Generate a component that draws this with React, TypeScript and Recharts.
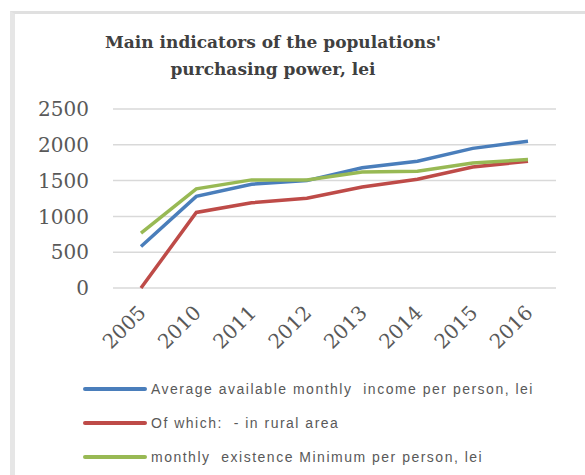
import { LineChart, Line, XAxis, YAxis, CartesianGrid } from 'recharts';

// Values
const years = ['2005', '2010', '2011', '2012', '2013', '2014', '2015', '2016'];
const avgIncome = [580, 1280, 1450, 1500, 1680, 1770, 1950, 2050];
const ruralIncome = [0, 1055, 1190, 1255, 1410, 1520, 1690, 1770];
const subsistenceMin = [765, 1385, 1510, 1510, 1620, 1630, 1745, 1795];
const yTicks = [0, 500, 1000, 1500, 2000, 2500];

const SERIES = [
    { key: 'avg', name: 'Average available monthly  income per person, lei', color: '#4a7ebb', values: avgIncome },
    { key: 'rural', name: 'Of which:  - in rural area', color: '#be4b48', values: ruralIncome },
    { key: 'minimum', name: 'monthly  existence Minimum per person, lei', color: '#98b954', values: subsistenceMin },
];

const data = years.map((year, i) => {
    const row: Record<string, string | number> = { year };
    SERIES.forEach((s) => {
        row[s.key] = s.values[i];
    });
    return row;
});

const TICK_FONT = '"DejaVu Serif", serif';

const YearTick = ({ x, y, payload }: { x: number; y: number; payload: { value: string } }) => {
    const tx = x + 6;
    const ty = y + 26;
    return (
        <text
            x={tx}
            y={ty}
            transform={`rotate(-45, ${tx}, ${ty})`}
            textAnchor="end"
            fill="#595959"
            fontFamily={TICK_FONT}
            fontSize={20}
        >
            {payload.value}
        </text>
    );
};

export default function App() {
    return (
        <div style={{ position: 'absolute', left: 0, top: 0, width: 585, height: 475, background: '#fff', overflow: 'hidden' }}>
            {/* chart frame (only top and left edges visible) */}
            <div
                style={{
                    position: 'absolute',
                    left: 10,
                    top: 11,
                    width: 600,
                    height: 500,
                    borderTop: '3px solid #e0e0e0',
                    borderLeft: '5px solid #e6e6e6',
                }}
            />

            <div
                style={{
                    position: 'absolute',
                    left: 0,
                    top: 29,
                    width: 546,
                    textAlign: 'center',
                    fontFamily: '"DejaVu Serif", serif',
                    fontWeight: 'bold',
                    fontSize: 17,
                    lineHeight: '27px',
                    color: '#404040',
                }}
            >
                Main indicators of the populations'
                <br />
                purchasing power, lei
            </div>

            <div style={{ position: 'absolute', left: 0, top: 0 }}>
                <LineChart
                    width={585}
                    height={475}
                    data={data}
                    margin={{ top: 109, right: 29, bottom: 127, left: 53 }}
                >
                    <CartesianGrid vertical={false} stroke="#d9d9d9" strokeWidth={1.5} />
                    <XAxis
                        dataKey="year"
                        axisLine={false}
                        tickLine={false}
                        tickSize={0}
                        tickMargin={0}
                        height={60}
                        interval={0}
                        padding={{ left: 28, right: 28 }}
                        tick={YearTick}
                    />
                    <YAxis
                        domain={[0, 2500]}
                        ticks={yTicks}
                        axisLine={false}
                        tickLine={false}
                        tickSize={0}
                        tickMargin={24}
                        width={60}
                        tick={{ fill: '#595959', fontFamily: TICK_FONT, fontSize: 20 }}
                    />
                    {SERIES.map((s) => (
                        <Line
                            key={s.key}
                            dataKey={s.key}
                            name={s.name}
                            stroke={s.color}
                            strokeWidth={3.5}
                            dot={false}
                            type="linear"
                            isAnimationActive={false}
                        />
                    ))}
                </LineChart>
            </div>

            {/* Legend */}
            {SERIES.map((s, i) => (
                <div
                    key={s.key}
                    style={{
                        position: 'absolute',
                        left: 83,
                        top: 389 + i * 34 - 10,
                        height: 20,
                        display: 'flex',
                        alignItems: 'center',
                    }}
                >
                    <div style={{ width: 64, height: 4, borderRadius: 2, background: s.color }} />
                    <span
                        style={{
                            marginLeft: 4,
                            fontFamily: '"Liberation Sans", Arial, sans-serif',
                            fontSize: 14,
                            letterSpacing: 1.5,
                            whiteSpace: 'pre',
                            color: '#595959',
                        }}
                    >
                        {s.name}
                    </span>
                </div>
            ))}
        </div>
    );
}
